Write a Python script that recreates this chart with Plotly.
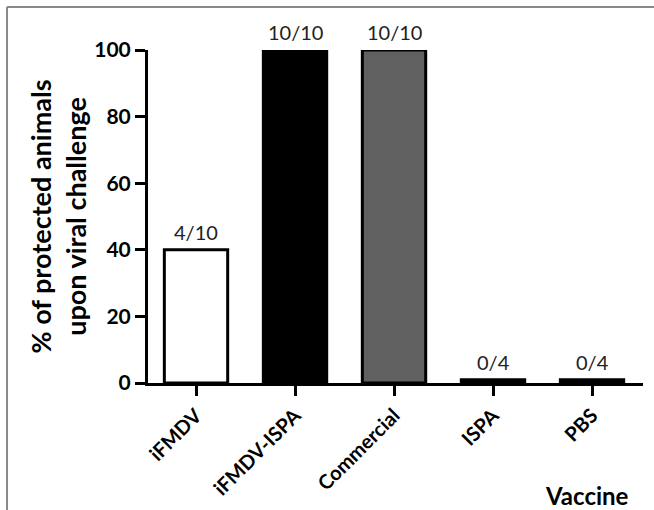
import plotly.graph_objects as go

categories = ["iFMDV", "iFMDV-ISPA", "Commercial", "ISPA", "PBS"]
protection = [40, 100, 100, 1, 1]
ratio_labels = ["4/10", "10/10", "10/10", "0/4", "0/4"]
bar_colors = ["#ffffff", "#000000", "#606060", "#000000", "#000000"]
y_ticks = [0, 20, 40, 60, 80, 100]

FONT = "Lato"

fig = go.Figure()
fig.add_trace(go.Bar(
    x=categories, y=protection,
    marker=dict(color=bar_colors, line=dict(color="#000000", width=3)),
    width=0.64,
    cliponaxis=False,
    hoverinfo="skip",
))

for cat, val, lab in zip(categories, protection, ratio_labels):
    fig.add_annotation(
        x=cat, y=val, text=lab, showarrow=False,
        xanchor="center", yanchor="bottom", yshift=4,
        font=dict(family=FONT, size=20, color="#222222"),
    )

fig.update_layout(
    width=654, height=510,
    margin=dict(l=148, r=11, t=50, b=127),
    paper_bgcolor="white", plot_bgcolor="white",
    showlegend=False,
    font=dict(family=FONT, color="#000000"),
)

fig.update_xaxes(
    range=[-0.485, 4.515],
    showline=True, linecolor="#000000", linewidth=3,
    ticks="outside", ticklen=10, tickwidth=3, tickcolor="#000000",
    tickangle=-45,
    tickfont=dict(family=FONT, size=20, color="#000000", weight="bold"),
    showgrid=False, zeroline=False,
)
fig.update_yaxes(
    range=[0, 100],
    tickvals=y_ticks,
    showline=True, linecolor="#000000", linewidth=3,
    ticks="outside", ticklen=10, tickwidth=3, tickcolor="#000000",
    tickfont=dict(family=FONT, size=21, color="#000000", weight="bold"),
    showgrid=False, zeroline=False,
    title=dict(text="% of protected animals<br>upon viral challenge",
               font=dict(family=FONT, size=27, color="#000000", weight="bold"),
               standoff=0),
)

fig.add_annotation(
    text="<b>Vaccine</b>", xref="paper", yref="paper",
    x=0.976, y=-0.338, xanchor="right", yanchor="middle", showarrow=False,
    font=dict(family=FONT, size=24, color="#000000"),
)

# frame lines (left and top) of the original figure panel
fig.add_shape(type="line", xref="paper", yref="paper",
              x0=-0.2848, x1=-0.2848, y0=1.129, y1=-0.40,
              line=dict(color="#888888", width=2))
fig.add_shape(type="line", xref="paper", yref="paper",
              x0=-0.2848, x1=1.03, y0=1.129, y1=1.129,
              line=dict(color="#888888", width=2))

fig.write_html("out.html")
